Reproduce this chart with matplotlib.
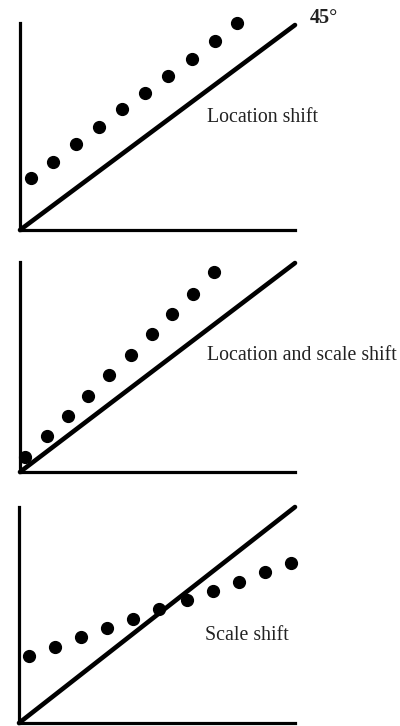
import matplotlib
matplotlib.use("Agg")
import matplotlib.pyplot as plt

# Reference 45-degree line (quantile of X = quantile of Y)
diag = [0.0, 1.0]

# Panel 1: location shift
loc_x = [0.039, 0.120, 0.204, 0.287, 0.371, 0.455, 0.538, 0.625, 0.709, 0.789]
loc_y = [0.254, 0.332, 0.420, 0.502, 0.590, 0.668, 0.751, 0.834, 0.922, 1.010]

# Panel 2: location and scale shift
ls_x = [0.018, 0.098, 0.175, 0.247, 0.324, 0.404, 0.480, 0.553, 0.629, 0.705]
ls_y = [0.072, 0.172, 0.268, 0.364, 0.464, 0.560, 0.660, 0.756, 0.852, 0.957]

# Panel 3: scale shift
sc_x = [0.036, 0.130, 0.225, 0.319, 0.413, 0.507, 0.609, 0.703, 0.797, 0.891, 0.986]
sc_y = [0.310, 0.352, 0.398, 0.440, 0.481, 0.528, 0.569, 0.611, 0.653, 0.699, 0.741]

labels = ["Location shift", "Location and scale shift", "Scale shift"]
angle_label = "45\u00b0"

W, H = 400, 726
fig = plt.figure(figsize=(W / 100, H / 100), dpi=100)
fig.patch.set_facecolor("white")

# (origin_x_px, origin_y_px_from_top, dx_px, dy_px, axis_height_px)
panels = [
    (20, 230, 275, 205, 207, loc_x, loc_y, labels[0], (207, 118)),
    (20, 472, 275, 209, 210, ls_x, ls_y, labels[1], (207, 355)),
    (19, 723, 276, 216, 216, sc_x, sc_y, labels[2], (205, 635)),
]

for ox, oy, dx, dy, ah, xs, ys, lab, (tx, ty) in panels:
    ax = fig.add_axes([ox / W, (H - oy) / H, dx / W, ah / H])
    ax.set_xlim(0, 1.0)
    ax.set_ylim(0, ah / dy)
    ax.plot(diag, diag, color="black", lw=3.3, solid_capstyle="round", clip_on=False)
    ax.plot(xs, ys, "o", color="black", ms=8.5, clip_on=False)
    for s in ["top", "right"]:
        ax.spines[s].set_visible(False)
    for s in ["left", "bottom"]:
        ax.spines[s].set_linewidth(2.3)
        ax.spines[s].set_color("black")
    ax.set_xticks([])
    ax.set_yticks([])
    ax.patch.set_alpha(0)
    fig.text(tx / W, 1 - ty / H, lab, fontsize=14.3, family="Liberation Serif",
             ha="left", va="center", color="#222222")

fig.text(310 / W, 1 - 18 / H, angle_label, fontsize=14.5, family="Liberation Serif",
         fontweight="bold", ha="left", va="center", color="#222222")

fig.savefig("out.png", dpi=100, facecolor="white")
